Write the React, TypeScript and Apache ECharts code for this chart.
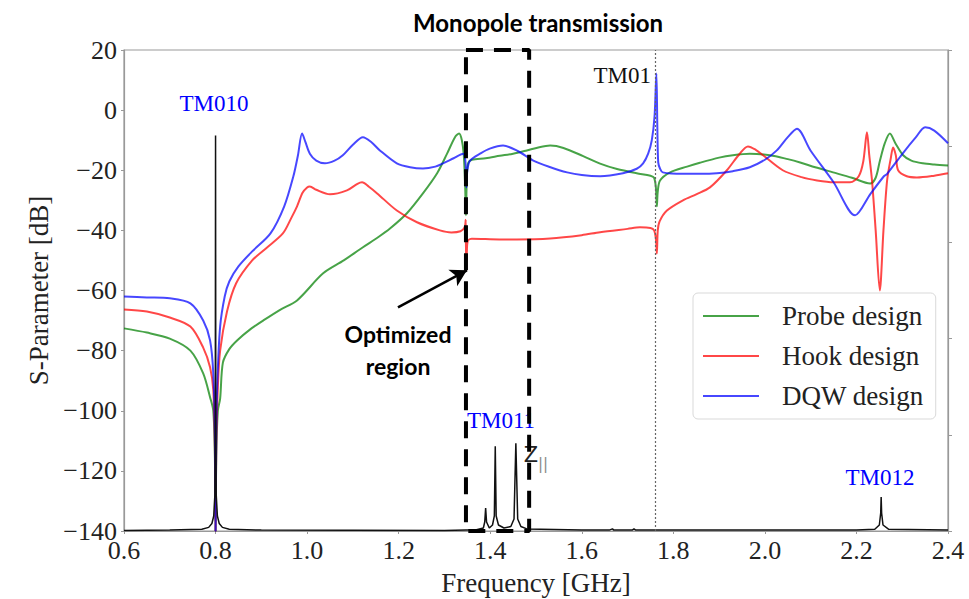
import { useEffect, useRef } from 'react';
import * as echarts from 'echarts';

// S-parameter traces [frequency GHz, dB]
const probeDesign: [number, number][] = [
  [0.6, -72.6], [0.65, -74], [0.7, -76], [0.745, -80], [0.773, -87.6], [0.788, -95.5], [0.795, -100],
  [0.7985, -115], [0.8, -140], [0.8015, -115], [0.805, -100], [0.81, -96], [0.816, -84], [0.83, -79.5],
  [0.847, -76.6], [0.875, -73], [0.904, -70], [0.94, -66.5], [0.978, -63.3], [1.035, -54.3], [1.08, -50],
  [1.122, -45.6], [1.155, -42.3], [1.181, -39.4], [1.218, -34.3], [1.253, -27.7], [1.284, -21], [1.306, -14.4],
  [1.323, -9], [1.332, -7.8], [1.338, -10], [1.342, -14.5], [1.345, -24], [1.347, -35], [1.349, -22],
  [1.352, -17.5], [1.36, -16.5], [1.39, -16], [1.421, -15.2], [1.45, -14.5], [1.48, -13.4], [1.505, -12.4],
  [1.531, -11.8], [1.56, -12.6], [1.603, -15.3], [1.64, -17.8], [1.677, -19.6], [1.72, -21], [1.75, -21.8],
  [1.758, -22.5], [1.762, -26], [1.764, -32], [1.766, -27], [1.771, -23.4], [1.793, -20.7], [1.83, -18.8],
  [1.858, -17.5], [1.9, -15.8], [1.93, -15], [1.967, -14.5], [2.011, -15], [2.05, -16.3], [2.077, -17.4],
  [2.11, -19], [2.149, -20.7], [2.19, -22.5], [2.23, -24.4], [2.242, -22.5], [2.251, -17], [2.262, -11],
  [2.273, -7.8], [2.285, -11], [2.302, -15], [2.32, -16.8], [2.345, -17.7], [2.37, -18.1], [2.4, -18.4],
];

const hookDesign: [number, number][] = [
  [0.6, -66.3], [0.65, -67], [0.7, -69], [0.745, -72], [0.773, -79], [0.788, -85.5], [0.795, -93],
  [0.7985, -112], [0.8, -140], [0.8015, -112], [0.805, -92], [0.81, -80], [0.825, -67], [0.845, -57.6],
  [0.88, -50], [0.91, -46], [0.947, -41], [0.965, -36], [0.978, -32], [0.99, -27.5], [1.0, -25.7],
  [1.006, -25.4], [1.02, -26.5], [1.05, -28], [1.087, -26.7], [1.11, -24.5], [1.12, -24], [1.135, -25.5],
  [1.153, -27.7], [1.196, -33.4], [1.24, -37.3], [1.29, -40], [1.315, -40.7], [1.335, -40.3], [1.344, -39],
  [1.3465, -36.5], [1.347, -45], [1.348, -53.3], [1.349, -47], [1.351, -43.5], [1.36, -42.8], [1.42, -43],
  [1.458, -43], [1.531, -42.7], [1.6, -41.6], [1.64, -40.6], [1.7, -39.5], [1.727, -39], [1.75, -39.2],
  [1.758, -40], [1.762, -43], [1.764, -47.7], [1.766, -40], [1.77, -37], [1.786, -33.4], [1.821, -30],
  [1.85, -28], [1.88, -25.7], [1.917, -20], [1.945, -14.5], [1.963, -12.1], [1.98, -13.2], [1.996, -15],
  [2.039, -20], [2.08, -22.3], [2.114, -23.4], [2.15, -24], [2.186, -24], [2.205, -22], [2.215, -17],
  [2.223, -7.4], [2.228, -15], [2.234, -23.4], [2.242, -40], [2.251, -60], [2.259, -40], [2.267, -23.4],
  [2.275, -16], [2.28, -12.4], [2.286, -15], [2.291, -20], [2.31, -22], [2.332, -22.4], [2.37, -21.8],
  [2.4, -21],
];

const dqwDesign: [number, number][] = [
  [0.6, -62], [0.65, -62.3], [0.7, -62.6], [0.745, -64.3], [0.773, -70], [0.788, -76.6], [0.795, -87.5],
  [0.7985, -108], [0.8, -140], [0.8015, -108], [0.804, -90], [0.81, -72], [0.82, -62], [0.83, -57],
  [0.85, -52], [0.88, -47], [0.92, -41], [0.95, -32], [0.97, -22], [0.98, -15], [0.989, -7.8],
  [0.996, -10.5], [1.006, -14.5], [1.02, -16.8], [1.039, -17.7], [1.06, -16.8], [1.078, -15], [1.1, -11.5],
  [1.122, -9], [1.14, -10.6], [1.159, -13.4], [1.196, -17.7], [1.225, -19], [1.253, -19.4], [1.28, -18.8],
  [1.297, -17.7], [1.32, -16], [1.341, -14.5], [1.345, -16], [1.347, -20], [1.348, -25.7], [1.35, -20],
  [1.356, -16.8], [1.38, -14.3], [1.399, -12.8], [1.428, -11.8], [1.46, -13.6], [1.493, -16.7], [1.53, -18.9],
  [1.568, -20.7], [1.6, -21.6], [1.64, -22], [1.69, -21], [1.72, -19.5], [1.734, -17.7], [1.745, -14.5],
  [1.753, -10], [1.759, -2], [1.763, 12.2], [1.765, -5], [1.767, -17.4], [1.771, -19.5], [1.777, -20.7],
  [1.821, -21.2], [1.86, -21.2], [1.895, -21], [1.93, -20.3], [1.967, -19], [2.0, -16.5], [2.026, -13.4],
  [2.05, -9], [2.07, -6.2], [2.1, -13.5], [2.15, -24], [2.197, -35], [2.23, -28], [2.26, -22],
  [2.267, -21.2], [2.3, -14.6], [2.33, -9], [2.35, -5.7], [2.37, -6.8], [2.4, -11],
];

// Longitudinal impedance Z|| (scaled onto the dB axis)
const zParallel: [number, number][] = [
  [0.6, -139.8], [0.7, -139.7], [0.77, -139.4], [0.785, -138.8], [0.792, -137.5], [0.796, -135],
  [0.7985, -128], [0.7995, -100], [0.8, -8.4], [0.8005, -100], [0.8015, -128], [0.804, -135],
  [0.808, -137.5], [0.815, -138.8], [0.83, -139.4], [0.9, -139.7], [1.3, -139.8], [1.37, -139.6],
  [1.385, -139], [1.388, -137], [1.39, -132.4], [1.392, -137], [1.398, -139], [1.405, -138], [1.409, -135],
  [1.411, -111.8], [1.413, -135], [1.418, -138], [1.43, -139], [1.445, -138.5], [1.452, -136],
  [1.456, -110.8], [1.46, -136], [1.467, -138.5], [1.48, -139.3], [1.6, -139.7], [1.66, -139.7],
  [1.667, -139.3], [1.67, -139.7], [1.71, -139.7], [1.714, -139.3], [1.718, -139.7], [2.2, -139.7],
  [2.24, -139.4], [2.25, -138], [2.253, -134], [2.254, -128.7], [2.255, -134], [2.258, -138],
  [2.27, -139.4], [2.4, -139.7],
];

const seriesNames = ['Probe design', 'Hook design', 'DQW design'];
const tm01Freq = 1.764;
const optimizedFreq = [1.347, 1.485];
const dbRange = [-140, 20];
const arrowFrom = [1.1985, -65.6];
const arrowTo = [1.349, -53.3];

const SERIF = '"Liberation Serif", "Times New Roman", serif';
const SANS_BOLD = 'Lato, "Open Sans", sans-serif';

export default function App() {
  const ref = useRef<HTMLDivElement>(null);

  useEffect(() => {
    if (!ref.current) return;
    const chart = echarts.init(ref.current, undefined, { renderer: 'svg' });

    const boxPath: [number, number][] = [
      [optimizedFreq[0], dbRange[1]],
      [optimizedFreq[1], dbRange[1]],
      [optimizedFreq[1], dbRange[0]],
      [optimizedFreq[0], dbRange[0]],
      [optimizedFreq[0], dbRange[1]],
    ];

    const curve = (name: string, data: [number, number][], color: string) => ({
      name,
      type: 'line',
      data,
      symbol: 'none',
      showSymbol: false,
      smooth: 0.3,
      color,
      lineStyle: { color, width: 2 },
      z: 3,
    });

    chart.setOption({
      animation: false,
      backgroundColor: '#fff',
      title: {
        text: 'Monopole transmission',
        left: 408,
        top: 5,
        textStyle: { fontFamily: SANS_BOLD, fontWeight: 'bold', fontSize: 24, color: '#000' },
      },
      grid: {
        left: 124,
        right: 21,
        top: 50,
        bottom: 68,
        show: true,
        borderColor: '#999',
        borderWidth: 1.2,
        outerBoundsMode: 'none',
      },
      legend: {
        data: seriesNames,
        orient: 'vertical',
        left: 693,
        top: 293,
        padding: [8, 12, 8, 10],
        itemWidth: 56,
        itemHeight: 2,
        icon: 'rect',
        itemGap: 10,
        backgroundColor: '#fff',
        borderColor: '#d9d9d9',
        borderWidth: 1,
        borderRadius: 5,
        textStyle: {
          fontFamily: SERIF,
          fontSize: 27,
          color: '#222',
          lineHeight: 30,
          padding: [0, 0, 0, 18],
        },
      },
      xAxis: {
        type: 'value',
        min: 0.6,
        max: 2.4,
        interval: 0.2,
        name: 'Frequency [GHz]',
        nameLocation: 'middle',
        nameGap: 38,
        nameTextStyle: { fontFamily: SERIF, fontSize: 27, color: '#222' },
        axisLine: { show: true, onZero: false, lineStyle: { color: '#999', width: 1.2 } },
        axisTick: { show: true, length: 3, lineStyle: { color: '#999' } },
        splitLine: { show: false },
        axisLabel: {
          fontFamily: SERIF,
          fontSize: 26,
          color: '#222',
          margin: 6,
          formatter: (v: number) => v.toFixed(1),
        },
      },
      yAxis: [
        {
          type: 'value',
          min: dbRange[0],
          max: dbRange[1],
          interval: 20,
          name: 'S-Parameter [dB]',
          nameLocation: 'middle',
          nameGap: 68,
          nameRotate: 90,
          nameTextStyle: { fontFamily: SERIF, fontSize: 27, color: '#222' },
          axisLine: { show: true, onZero: false, lineStyle: { color: '#999', width: 1.2 } },
          axisTick: { show: true, length: 3, lineStyle: { color: '#999' } },
          splitLine: { show: false },
          axisLabel: {
            fontFamily: SERIF,
            fontSize: 26,
            color: '#222',
            margin: 7,
            formatter: (v: number) => (v < 0 ? '\u2212' + Math.abs(v) : String(v)),
          },
        },
        {
          type: 'value',
          position: 'right',
          min: 0,
          max: 5,
          interval: 1,
          axisLine: { show: true, onZero: false, lineStyle: { color: '#999', width: 1.2 } },
          axisTick: { show: true, length: 4, lineStyle: { color: '#999' } },
          axisLabel: { show: false },
          splitLine: { show: false },
        },
      ],
      graphic: [
        { type: 'text', x: 214, y: 103, style: { text: 'TM010', fill: '#0000ff', font: `23px ${SERIF}`, align: 'center', verticalAlign: 'middle' } },
        { type: 'text', x: 651, y: 75, style: { text: 'TM01', fill: '#111', font: `23px ${SERIF}`, align: 'right', verticalAlign: 'middle' } },
        { type: 'text', x: 501, y: 420, style: { text: 'TM011', fill: '#0000ff', font: `23px ${SERIF}`, align: 'center', verticalAlign: 'middle' } },
        { type: 'text', x: 880, y: 477, style: { text: 'TM012', fill: '#0000ff', font: `23px ${SERIF}`, align: 'center', verticalAlign: 'middle' } },
        { type: 'text', x: 531, y: 455, style: { text: 'Z', fill: '#222', font: '21px "DejaVu Sans", sans-serif', align: 'center', verticalAlign: 'middle' } },
        { type: 'text', x: 543, y: 464, style: { text: '||', fill: '#888', font: '15px "DejaVu Sans", sans-serif', align: 'center', verticalAlign: 'middle' } },
        { type: 'text', x: 398, y: 350, style: { text: 'Optimized\nregion', fill: '#000', font: `bold 23px ${SANS_BOLD}`, align: 'center', verticalAlign: 'middle', lineHeight: 32 } },
      ],
      series: [
        curve(seriesNames[0], probeDesign, 'rgba(0,128,0,0.72)'),
        curve(seriesNames[1], hookDesign, 'rgba(255,0,0,0.72)'),
        curve(seriesNames[2], dqwDesign, 'rgba(0,0,255,0.72)'),
        {
          name: 'Z||',
          type: 'line',
          data: zParallel,
          symbol: 'none',
          color: '#111',
          lineStyle: { color: '#111', width: 1.5 },
          z: 4,
          markLine: {
            silent: true,
            symbol: 'none',
            label: { show: false },
            lineStyle: { color: '#666', type: [2, 2], width: 1.2 },
            data: [{ xAxis: tm01Freq }],
          },
        },
        {
          name: 'Optimized region',
          type: 'line',
          data: boxPath,
          symbol: 'none',
          color: '#000',
          lineStyle: { color: '#000', width: 4, type: [17, 11] },
          z: 5,
          clip: false,
          markLine: {
            silent: true,
            symbol: ['none', 'arrow'],
            symbolSize: [14, 16],
            label: { show: false },
            lineStyle: { color: '#000', type: 'solid', width: 2.5 },
            data: [[{ coord: arrowFrom }, { coord: arrowTo }]],
          },
        },
      ],
    });

    return () => chart.dispose();
  }, []);

  return (
    <div
      ref={ref}
      style={{ position: 'fixed', left: 0, top: 0, width: 969, height: 599, background: '#fff' }}
    />
  );
}
